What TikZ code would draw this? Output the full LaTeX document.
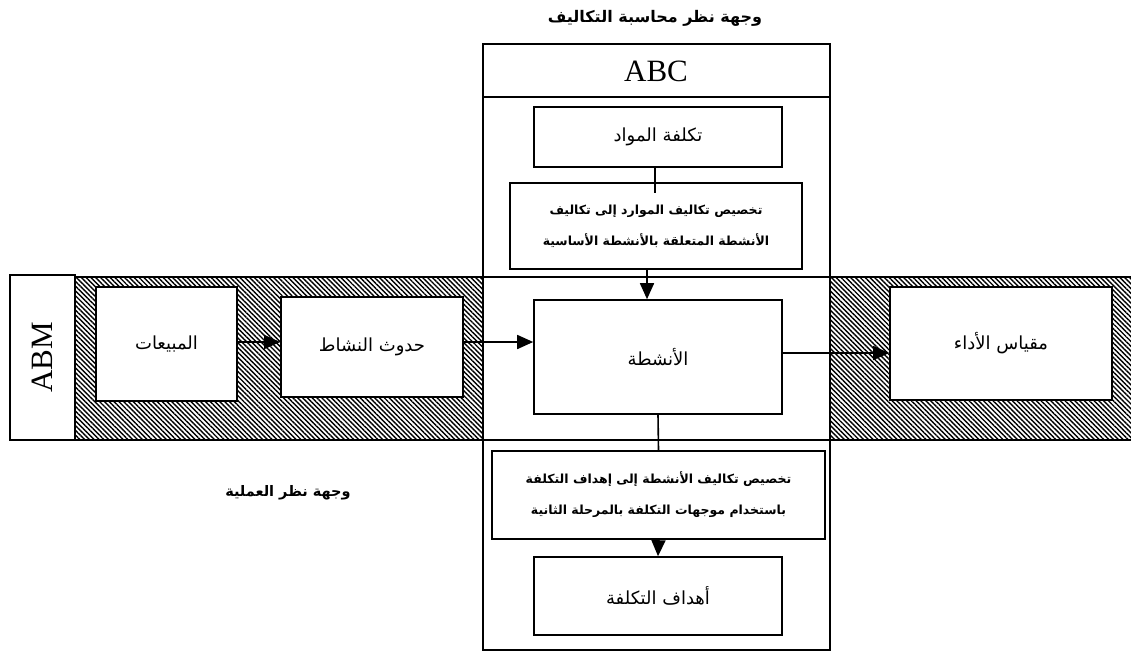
\documentclass[tikz,border=0pt]{standalone}
\usepackage{fontspec}
\setmainfont{Liberation Serif}
\newfontfamily\arabicfont[Script=Arabic]{DejaVu Sans}
\TeXXeTstate=1
\usetikzlibrary{arrows.meta,patterns.meta}
\newcommand{\ar}[1]{{\arabicfont\beginR #1\endR}}
\begin{document}
\begin{tikzpicture}[x=1pt,y=-1pt,
  box/.style={draw,line width=1.6pt,fill=white,inner sep=2pt,align=center},
  plain/.style={box,font=\fontsize{18}{21}\selectfont},
  boldbox/.style={box,font=\bfseries\fontsize{12.5}{31}\selectfont},
  arr/.style={line width=1.6pt,-{Triangle[length=16pt,width=14pt]}},
  conn/.style={line width=1.6pt},
  frame/.style={line width=1.5pt},
  hatch/.style={pattern={Lines[angle=-45,distance=3.4pt,line width=1.4pt]}}]
\useasboundingbox (0,0) rectangle (1131,653);

% hatched band behind the process chain
\fill[hatch] (75,277) rectangle (483,440);
\fill[hatch] (830,277) rectangle (1131,440);
\draw[frame] (10,277) -- (1131,277);
\draw[frame] (10,440) -- (1131,440);

% cost accounting column
\draw[frame] (483,44) rectangle (830,650);
\draw[frame] (483,97) -- (830,97);
\node (abc) at (656,71) {\fontsize{31}{34}\selectfont ABC};

% ABM side label
\node[draw,line width=1.5pt,fill=white,minimum width=65,minimum height=165,inner sep=0pt] (abm) at (42.5,357.5) {};
\node[rotate=90] (abmtext) at (abm.center) {\fontsize{31}{34}\selectfont ABM};

% titles
\node (ttop) at (655,18) {\ar{\bfseries\fontsize{16}{18}\selectfont وجهة نظر محاسبة التكاليف}};
\node (tproc) at (288,493) {\ar{\bfseries\fontsize{14.5}{17}\selectfont وجهة نظر العملية}};

% boxes
\node[plain,minimum width=248,minimum height=60] (mat) at (658,137) {\ar{تكلفة المواد}};
\node[boldbox,minimum width=292,minimum height=86] (alloca) at (656,226)
  {\ar{تخصيص تكاليف الموارد إلى تكاليف}\\\ar{الأنشطة المتعلقة بالأنشطة الأساسية}};
\node[plain,minimum width=141,minimum height=114] (sales) at (166.5,344) {\ar{المبيعات}};
\node[plain,minimum width=182,minimum height=100] (occur) at (372,347) {\ar{حدوث النشاط}};
\node[plain,minimum width=248,minimum height=114] (act) at (658,357) {\ar{الأنشطة}};
\node[plain,minimum width=222,minimum height=113] (perf) at (1001,343.5) {\ar{مقياس الأداء}};
\node[boldbox,minimum width=333,minimum height=88] (allocb) at (658.5,495)
  {\ar{تخصيص تكاليف الأنشطة إلى إهداف التكلفة}\\\ar{باستخدام موجهات التكلفة بالمرحلة الثانية}};
\node[plain,minimum width=248,minimum height=78] (obj) at (658,596) {\ar{أهداف التكلفة}};

% connectors
\draw[conn] ([xshift=-3pt]mat.south) -- ([xshift=-3pt,yshift=-11pt]mat.south |- alloca.north);
\draw[arr] ([xshift=-9pt]alloca.south) -- ([xshift=-9pt]alloca.south |- act.north);
\draw[arr] (sales.east |- 0,342) -- (occur.west |- 0,342);
\draw[arr] (occur.east |- 0,342) -- (act.west |- 0,342);
\draw[arr] (act.east |- 0,353) -- (perf.west |- 0,353);
\draw[conn] (act.south) -- (allocb.north);
\draw[arr] (allocb.south) -- (obj.north);
\end{tikzpicture}
\end{document}
